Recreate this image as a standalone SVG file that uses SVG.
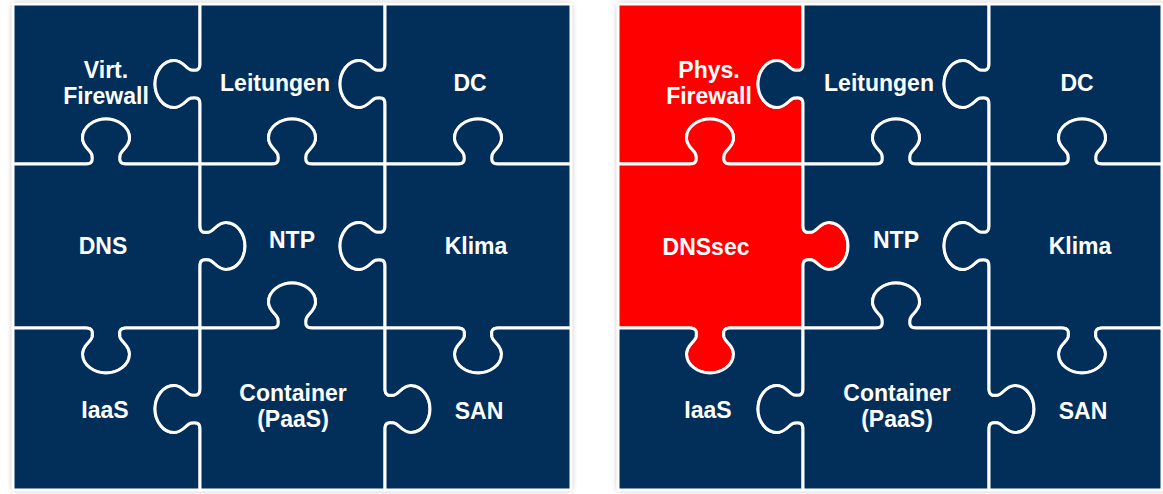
<svg xmlns="http://www.w3.org/2000/svg" width="1163" height="494" viewBox="0 0 1163 494">
<defs>
<filter id="sh" x="-5%" y="-5%" width="110%" height="110%">
<feGaussianBlur stdDeviation="3"/>
</filter>
</defs>
<style>
.frame{fill:#000;opacity:0.35}
.navy{fill:#022e5a}
.red{fill:#ff0000}
.piece{stroke:#ffffff;stroke-width:3;stroke-linejoin:round}
.lbl{font-family:"Liberation Sans",Arial,sans-serif;font-weight:bold;font-size:23px;fill:#ffffff;text-anchor:middle}
</style>
<g id="frames">
<rect class="frame" x="13" y="4" width="558" height="486" filter="url(#sh)"/>
<rect class="frame" x="618" y="4" width="550" height="486" filter="url(#sh)"/>
</g>
<g id="left-grid">
<g id="l-virt-firewall">
<path class="piece navy" d="M13,4 H200 V64 c0,6 -3,7 -9,6 c-5,-1 -8,-9.5 -17,-9.5 c-11,0 -19,11.5 -19,23.5 c0,12 8,23.5 19,23.5 c9,0 12,-8.5 17,-9.5 c6,-1 9,0 9,6 V164 H126 c-6,0 -7,-3 -6,-9 c1,-5 9.5,-8 9.5,-17 c0,-11 -11.5,-19 -23.5,-19 c-12,0 -23.5,8 -23.5,19 c0,9 8.5,12 9.5,17 c1,6 0,9 -6,9 H13 Z"/>
<text class="lbl" x="106" y="78">Virt.</text>
<text class="lbl" x="106" y="104">Firewall</text>
</g>
<g id="l-leitungen">
<path class="piece navy" d="M200,4 H385 V64 c0,6 -3,7 -9,6 c-5,-1 -8,-9.5 -17,-9.5 c-11,0 -19,11.5 -19,23.5 c0,12 8,23.5 19,23.5 c9,0 12,-8.5 17,-9.5 c6,-1 9,0 9,6 V164 H312 c-6,0 -7,-3 -6,-9 c1,-5 9.5,-8 9.5,-17 c0,-11 -11.5,-19 -23.5,-19 c-12,0 -23.5,8 -23.5,19 c0,9 8.5,12 9.5,17 c1,6 0,9 -6,9 H200 V104 c0,-6 -3,-7 -9,-6 c-5,1 -8,9.5 -17,9.5 c-11,0 -19,-11.5 -19,-23.5 c0,-12 8,-23.5 19,-23.5 c9,0 12,8.5 17,9.5 c6,1 9,0 9,-6 V4 Z"/>
<text class="lbl" x="275" y="91">Leitungen</text>
</g>
<g id="l-dc">
<path class="piece navy" d="M385,4 H571 V164 H498 c-6,0 -7,-3 -6,-9 c1,-5 9.5,-8 9.5,-17 c0,-11 -11.5,-19 -23.5,-19 c-12,0 -23.5,8 -23.5,19 c0,9 8.5,12 9.5,17 c1,6 0,9 -6,9 H385 V104 c0,-6 -3,-7 -9,-6 c-5,1 -8,9.5 -17,9.5 c-11,0 -19,-11.5 -19,-23.5 c0,-12 8,-23.5 19,-23.5 c9,0 12,8.5 17,9.5 c6,1 9,0 9,-6 V4 Z"/>
<text class="lbl" x="470" y="91">DC</text>
</g>
<g id="l-dns">
<path class="piece navy" d="M13,164 H86 c6,0 7,-3 6,-9 c-1,-5 -9.5,-8 -9.5,-17 c0,-11 11.5,-19 23.5,-19 c12,0 23.5,8 23.5,19 c0,9 -8.5,12 -9.5,17 c-1,6 0,9 6,9 H200 V226 c0,6 3,7 9,6 c5,-1 8,-9.5 17,-9.5 c11,0 19,11.5 19,23.5 c0,12 -8,23.5 -19,23.5 c-9,0 -12,-8.5 -17,-9.5 c-6,-1 -9,0 -9,6 V328 H126 c-6,0 -7,3 -6,9 c1,5 9.5,8 9.5,17 c0,11 -11.5,19 -23.5,19 c-12,0 -23.5,-8 -23.5,-19 c0,-9 8.5,-12 9.5,-17 c1,-6 0,-9 -6,-9 H13 Z"/>
<text class="lbl" x="103" y="254">DNS</text>
</g>
<g id="l-ntp">
<path class="piece navy" d="M200,164 H272 c6,0 7,-3 6,-9 c-1,-5 -9.5,-8 -9.5,-17 c0,-11 11.5,-19 23.5,-19 c12,0 23.5,8 23.5,19 c0,9 -8.5,12 -9.5,17 c-1,6 0,9 6,9 H385 V226 c0,6 -3,7 -9,6 c-5,-1 -8,-9.5 -17,-9.5 c-11,0 -19,11.5 -19,23.5 c0,12 8,23.5 19,23.5 c9,0 12,-8.5 17,-9.5 c6,-1 9,0 9,6 V328 H312 c-6,0 -7,-3 -6,-9 c1,-5 9.5,-8 9.5,-17 c0,-11 -11.5,-19 -23.5,-19 c-12,0 -23.5,8 -23.5,19 c0,9 8.5,12 9.5,17 c1,6 0,9 -6,9 H200 V266 c0,-6 3,-7 9,-6 c5,1 8,9.5 17,9.5 c11,0 19,-11.5 19,-23.5 c0,-12 -8,-23.5 -19,-23.5 c-9,0 -12,8.5 -17,9.5 c-6,1 -9,0 -9,-6 V164 Z"/>
<text class="lbl" x="292" y="248">NTP</text>
</g>
<g id="l-klima">
<path class="piece navy" d="M385,164 H458 c6,0 7,-3 6,-9 c-1,-5 -9.5,-8 -9.5,-17 c0,-11 11.5,-19 23.5,-19 c12,0 23.5,8 23.5,19 c0,9 -8.5,12 -9.5,17 c-1,6 0,9 6,9 H571 V328 H498 c-6,0 -7,3 -6,9 c1,5 9.5,8 9.5,17 c0,11 -11.5,19 -23.5,19 c-12,0 -23.5,-8 -23.5,-19 c0,-9 8.5,-12 9.5,-17 c1,-6 0,-9 -6,-9 H385 V266 c0,-6 -3,-7 -9,-6 c-5,1 -8,9.5 -17,9.5 c-11,0 -19,-11.5 -19,-23.5 c0,-12 8,-23.5 19,-23.5 c9,0 12,8.5 17,9.5 c6,1 9,0 9,-6 V164 Z"/>
<text class="lbl" x="476" y="254">Klima</text>
</g>
<g id="l-iaas">
<path class="piece navy" d="M13,328 H86 c6,0 7,3 6,9 c-1,5 -9.5,8 -9.5,17 c0,11 11.5,19 23.5,19 c12,0 23.5,-8 23.5,-19 c0,-9 -8.5,-12 -9.5,-17 c-1,-6 0,-9 6,-9 H200 V389 c0,6 -3,7 -9,6 c-5,-1 -8,-9.5 -17,-9.5 c-11,0 -19,11.5 -19,23.5 c0,12 8,23.5 19,23.5 c9,0 12,-8.5 17,-9.5 c6,-1 9,0 9,6 V490 H13 Z"/>
<text class="lbl" x="105" y="418">IaaS</text>
</g>
<g id="l-container">
<path class="piece navy" d="M200,328 H272 c6,0 7,-3 6,-9 c-1,-5 -9.5,-8 -9.5,-17 c0,-11 11.5,-19 23.5,-19 c12,0 23.5,8 23.5,19 c0,9 -8.5,12 -9.5,17 c-1,6 0,9 6,9 H385 V389 c0,6 3,7 9,6 c5,-1 8,-9.5 17,-9.5 c11,0 19,11.5 19,23.5 c0,12 -8,23.5 -19,23.5 c-9,0 -12,-8.5 -17,-9.5 c-6,-1 -9,0 -9,6 V490 H200 V429 c0,-6 -3,-7 -9,-6 c-5,1 -8,9.5 -17,9.5 c-11,0 -19,-11.5 -19,-23.5 c0,-12 8,-23.5 19,-23.5 c9,0 12,8.5 17,9.5 c6,1 9,0 9,-6 V328 Z"/>
<text class="lbl" x="293" y="401">Container</text>
<text class="lbl" x="293" y="427">(PaaS)</text>
</g>
<g id="l-san">
<path class="piece navy" d="M385,328 H458 c6,0 7,3 6,9 c-1,5 -9.5,8 -9.5,17 c0,11 11.5,19 23.5,19 c12,0 23.5,-8 23.5,-19 c0,-9 -8.5,-12 -9.5,-17 c-1,-6 0,-9 6,-9 H571 V490 H385 V429 c0,-6 3,-7 9,-6 c5,1 8,9.5 17,9.5 c11,0 19,-11.5 19,-23.5 c0,-12 -8,-23.5 -19,-23.5 c-9,0 -12,8.5 -17,9.5 c-6,1 -9,0 -9,-6 V328 Z"/>
<text class="lbl" x="479" y="419">SAN</text>
</g>
</g>
<g id="right-grid">
<g id="r-phys-firewall">
<path class="piece red" d="M618,4 H803 V64 c0,6 -3,7 -9,6 c-5,-1 -8,-9.5 -17,-9.5 c-11,0 -19,11.5 -19,23.5 c0,12 8,23.5 19,23.5 c9,0 12,-8.5 17,-9.5 c6,-1 9,0 9,6 V164 H730 c-6,0 -7,-3 -6,-9 c1,-5 9.5,-8 9.5,-17 c0,-11 -11.5,-19 -23.5,-19 c-12,0 -23.5,8 -23.5,19 c0,9 8.5,12 9.5,17 c1,6 0,9 -6,9 H618 Z"/>
<text class="lbl" x="709" y="78">Phys.</text>
<text class="lbl" x="709" y="104">Firewall</text>
</g>
<g id="r-leitungen">
<path class="piece navy" d="M803,4 H989 V64 c0,6 -3,7 -9,6 c-5,-1 -8,-9.5 -17,-9.5 c-11,0 -19,11.5 -19,23.5 c0,12 8,23.5 19,23.5 c9,0 12,-8.5 17,-9.5 c6,-1 9,0 9,6 V164 H916 c-6,0 -7,-3 -6,-9 c1,-5 9.5,-8 9.5,-17 c0,-11 -11.5,-19 -23.5,-19 c-12,0 -23.5,8 -23.5,19 c0,9 8.5,12 9.5,17 c1,6 0,9 -6,9 H803 V104 c0,-6 -3,-7 -9,-6 c-5,1 -8,9.5 -17,9.5 c-11,0 -19,-11.5 -19,-23.5 c0,-12 8,-23.5 19,-23.5 c9,0 12,8.5 17,9.5 c6,1 9,0 9,-6 V4 Z"/>
<text class="lbl" x="879" y="91">Leitungen</text>
</g>
<g id="r-dc">
<path class="piece navy" d="M989,4 H1162 V164 H1102 c-6,0 -7,-3 -6,-9 c1,-5 9.5,-8 9.5,-17 c0,-11 -11.5,-19 -23.5,-19 c-12,0 -23.5,8 -23.5,19 c0,9 8.5,12 9.5,17 c1,6 0,9 -6,9 H989 V104 c0,-6 -3,-7 -9,-6 c-5,1 -8,9.5 -17,9.5 c-11,0 -19,-11.5 -19,-23.5 c0,-12 8,-23.5 19,-23.5 c9,0 12,8.5 17,9.5 c6,1 9,0 9,-6 V4 Z"/>
<text class="lbl" x="1077" y="91">DC</text>
</g>
<g id="r-dnssec">
<path class="piece red" d="M618,164 H690 c6,0 7,-3 6,-9 c-1,-5 -9.5,-8 -9.5,-17 c0,-11 11.5,-19 23.5,-19 c12,0 23.5,8 23.5,19 c0,9 -8.5,12 -9.5,17 c-1,6 0,9 6,9 H803 V226 c0,6 3,7 9,6 c5,-1 8,-9.5 17,-9.5 c11,0 19,11.5 19,23.5 c0,12 -8,23.5 -19,23.5 c-9,0 -12,-8.5 -17,-9.5 c-6,-1 -9,0 -9,6 V328 H730 c-6,0 -7,3 -6,9 c1,5 9.5,8 9.5,17 c0,11 -11.5,19 -23.5,19 c-12,0 -23.5,-8 -23.5,-19 c0,-9 8.5,-12 9.5,-17 c1,-6 0,-9 -6,-9 H618 Z"/>
<text class="lbl" x="706" y="255">DNSsec</text>
</g>
<g id="r-ntp">
<path class="piece navy" d="M803,164 H876 c6,0 7,-3 6,-9 c-1,-5 -9.5,-8 -9.5,-17 c0,-11 11.5,-19 23.5,-19 c12,0 23.5,8 23.5,19 c0,9 -8.5,12 -9.5,17 c-1,6 0,9 6,9 H989 V226 c0,6 -3,7 -9,6 c-5,-1 -8,-9.5 -17,-9.5 c-11,0 -19,11.5 -19,23.5 c0,12 8,23.5 19,23.5 c9,0 12,-8.5 17,-9.5 c6,-1 9,0 9,6 V328 H916 c-6,0 -7,-3 -6,-9 c1,-5 9.5,-8 9.5,-17 c0,-11 -11.5,-19 -23.5,-19 c-12,0 -23.5,8 -23.5,19 c0,9 8.5,12 9.5,17 c1,6 0,9 -6,9 H803 V266 c0,-6 3,-7 9,-6 c5,1 8,9.5 17,9.5 c11,0 19,-11.5 19,-23.5 c0,-12 -8,-23.5 -19,-23.5 c-9,0 -12,8.5 -17,9.5 c-6,1 -9,0 -9,-6 V164 Z"/>
<text class="lbl" x="896" y="248">NTP</text>
</g>
<g id="r-klima">
<path class="piece navy" d="M989,164 H1062 c6,0 7,-3 6,-9 c-1,-5 -9.5,-8 -9.5,-17 c0,-11 11.5,-19 23.5,-19 c12,0 23.5,8 23.5,19 c0,9 -8.5,12 -9.5,17 c-1,6 0,9 6,9 H1162 V328 H1102 c-6,0 -7,3 -6,9 c1,5 9.5,8 9.5,17 c0,11 -11.5,19 -23.5,19 c-12,0 -23.5,-8 -23.5,-19 c0,-9 8.5,-12 9.5,-17 c1,-6 0,-9 -6,-9 H989 V266 c0,-6 -3,-7 -9,-6 c-5,1 -8,9.5 -17,9.5 c-11,0 -19,-11.5 -19,-23.5 c0,-12 8,-23.5 19,-23.5 c9,0 12,8.5 17,9.5 c6,1 9,0 9,-6 V164 Z"/>
<text class="lbl" x="1080" y="254">Klima</text>
</g>
<g id="r-iaas">
<path class="piece navy" d="M618,328 H690 c6,0 7,3 6,9 c-1,5 -9.5,8 -9.5,17 c0,11 11.5,19 23.5,19 c12,0 23.5,-8 23.5,-19 c0,-9 -8.5,-12 -9.5,-17 c-1,-6 0,-9 6,-9 H803 V389 c0,6 -3,7 -9,6 c-5,-1 -8,-9.5 -17,-9.5 c-11,0 -19,11.5 -19,23.5 c0,12 8,23.5 19,23.5 c9,0 12,-8.5 17,-9.5 c6,-1 9,0 9,6 V490 H618 Z"/>
<text class="lbl" x="708" y="418">IaaS</text>
</g>
<g id="r-container">
<path class="piece navy" d="M803,328 H876 c6,0 7,-3 6,-9 c-1,-5 -9.5,-8 -9.5,-17 c0,-11 11.5,-19 23.5,-19 c12,0 23.5,8 23.5,19 c0,9 -8.5,12 -9.5,17 c-1,6 0,9 6,9 H989 V389 c0,6 3,7 9,6 c5,-1 8,-9.5 17,-9.5 c11,0 19,11.5 19,23.5 c0,12 -8,23.5 -19,23.5 c-9,0 -12,-8.5 -17,-9.5 c-6,-1 -9,0 -9,6 V490 H803 V429 c0,-6 -3,-7 -9,-6 c-5,1 -8,9.5 -17,9.5 c-11,0 -19,-11.5 -19,-23.5 c0,-12 8,-23.5 19,-23.5 c9,0 12,8.5 17,9.5 c6,1 9,0 9,-6 V328 Z"/>
<text class="lbl" x="897" y="401">Container</text>
<text class="lbl" x="897" y="427">(PaaS)</text>
</g>
<g id="r-san">
<path class="piece navy" d="M989,328 H1062 c6,0 7,3 6,9 c-1,5 -9.5,8 -9.5,17 c0,11 11.5,19 23.5,19 c12,0 23.5,-8 23.5,-19 c0,-9 -8.5,-12 -9.5,-17 c-1,-6 0,-9 6,-9 H1162 V490 H989 V429 c0,-6 3,-7 9,-6 c5,1 8,9.5 17,9.5 c11,0 19,-11.5 19,-23.5 c0,-12 -8,-23.5 -19,-23.5 c-9,0 -12,8.5 -17,9.5 c-6,1 -9,0 -9,-6 V328 Z"/>
<text class="lbl" x="1083" y="419">SAN</text>
</g>
</g>
</svg>
